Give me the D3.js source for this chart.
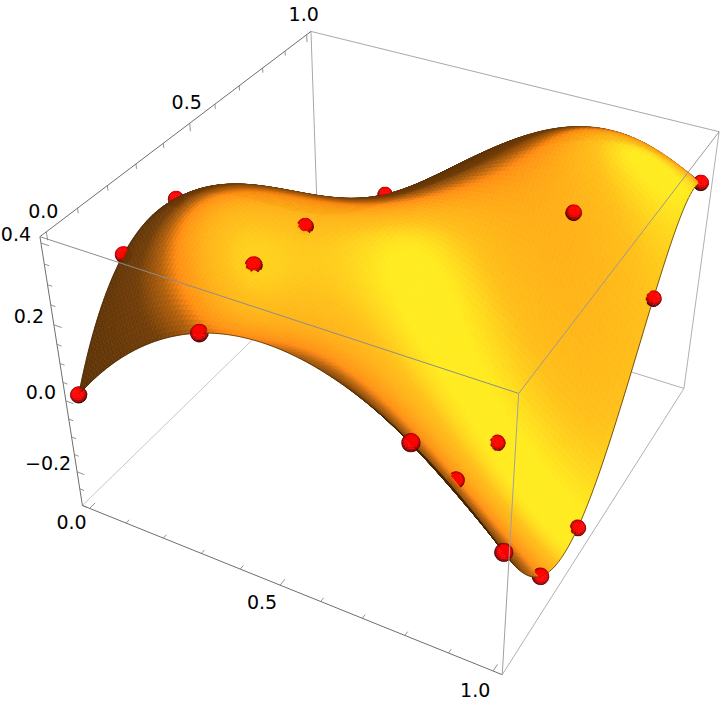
<!DOCTYPE html><html><head><meta charset="utf-8"><style>html,body{margin:0;background:#fff}</style></head><body><svg id="c" width="720" height="704"></svg><script src="https://cdn.jsdelivr.net/npm/d3@7"></script><script>
// data
const xNodes=[0,1/3,0.8,1];
const yNodes=[0,0.2,0.4,0.75,1];
const zRow0=[0.01,0.29,0.20,0.01];
const zRow1=[0.25,0.33,-0.05,-0.23];
const zRow2=[0.28,0.31,-0.10,-0.26];
const zRow3=[0.08,0.20,0.29,0.13];
const zRow4=[-0.07,0.10,0.34,0.29];
const zRows=[zRow0,zRow1,zRow2,zRow3,zRow4];
// nodes whose red point can be seen: one flag per node, rows as in zRows
const shownRows=[[1,1,1,1],[1,1,1,1],[1,1,1,1],[0,1,1,1],[0,0,0,1]];
const xyTicks=d3.range(0,11).map(i=>i/10);
const xyLabels=[0,0.5,1];
const zTicks=d3.range(-6,9).map(i=>i*0.05);
const zLabels=[-0.2,0,0.2,0.4];
const xRange=[-0.02,1.02],yRange=[-0.02,1.02],zRange=[-0.30,0.415];
// camera
const Cam=[[367.952,306.1,-69.4042,79.2416],[95.4682,-176.054,-436.464,398.52],[-0.111849,0.208865,-0.175215,1]];
const proj=(x,y,z)=>{const w=Cam[2][0]*x+Cam[2][1]*y+Cam[2][2]*z+Cam[2][3];return [(Cam[0][0]*x+Cam[0][1]*y+Cam[0][2]*z+Cam[0][3])/w,(Cam[1][0]*x+Cam[1][1]*y+Cam[1][2]*z+Cam[1][3])/w];};
function solve3(M,r){M=M.map((R,i)=>[...R,r[i]]);for(let i=0;i<3;i++){let p=i;for(let k=i;k<3;k++)if(Math.abs(M[k][i])>Math.abs(M[p][i]))p=k;[M[i],M[p]]=[M[p],M[i]];for(let k=0;k<3;k++)if(k!=i){const f=M[k][i]/M[i][i];for(let j=i;j<4;j++)M[k][j]-=f*M[i][j];}}return M.map((R,i)=>R[3]/R[i]);}
const eye=solve3(Cam.map(R=>R.slice(0,3)),Cam.map(R=>-R[3]));
const norm=v=>{const l=Math.hypot(...v);return v.map(a=>a/l);};
const dot=(a,b)=>a[0]*b[0]+a[1]*b[1]+a[2]*b[2];
const cross=(a,b)=>[a[1]*b[2]-a[2]*b[1],a[2]*b[0]-a[0]*b[2],a[0]*b[1]-a[1]*b[0]];
// camera frame
const mid=[0.5,0.5,0.06];
const fwd=norm(mid.map((m,k)=>m-eye[k]));
const grad=(idx)=>[0,1,2].map(k=>{const a=[...mid],b=[...mid];a[k]-=1e-3;b[k]+=1e-3;return (proj(...b)[idx]-proj(...a)[idx])/2e-3;});
const gx=grad(0),right=norm(gx.map((g,k)=>g-dot(gx,fwd)*fwd[k]));
const up=norm(cross(right,fwd));
const toCam=n=>[dot(n,right),dot(n,up),-dot(n,fwd)];
// lights in image frame (right, up, toward viewer)
const lightS=norm([0.8,0.7,2]),lightR=norm([0.1,0.6,2]);
const greenRamp=d3.scaleLinear().domain([0,0.25,0.45,0.58,0.68,0.8,0.89,0.98]).range([0.15,0.2,0.24,0.38,0.57,0.68,0.75,0.92]).clamp(true);
const surfShade=n=>{
  const g=greenRamp(dot(toCam(n),lightS));
  const r=Math.min(1,1.85*g),b=0.13*g;
  return d3.rgb(r*255,g*255,b*255).formatHex();
};
const sphShade=n=>{
  const r=Math.min(1,0.2+1.0*Math.max(0,dot(toCam(n),lightR)));
  return d3.rgb(r*255,0,0).formatHex();
};
// surface
const lag=(nodes,t)=>nodes.map((n,i)=>{let p=1;nodes.forEach((m,j)=>{if(j!=i)p*=(t-m)/(n-m);});return p;});
const surf=(x,y)=>{const bx=lag(xNodes,x),by=lag(yNodes,y);let s=0;by.forEach((b,j)=>bx.forEach((a,i)=>{s+=a*b*zRows[j][i];}));return s;};
const N=100;
const u=d3.scaleLinear().domain([0,N]).range([0,1]);
const line=d3.line();
const items=[];
const distTo=(p)=>Math.hypot(p[0]-eye[0],p[1]-eye[1],p[2]-eye[2]);
for(let i=0;i<N;i++)for(let j=0;j<N;j++){
  const corners=[[i,j],[i+1,j],[i+1,j+1],[i,j+1]].map(([a,b])=>{const x=u(a),y=u(b);return [x,y,surf(x,y)];});
  const cx=u(i+.5),cy=u(j+.5),cz=surf(cx,cy),h=1e-3;
  let n=norm([-(surf(cx+h,cy)-surf(cx-h,cy))/(2*h),-(surf(cx,cy+h)-surf(cx,cy-h))/(2*h),1]);
  const v=norm([eye[0]-cx,eye[1]-cy,eye[2]-cz]);
  if(dot(n,v)<0)n=n.map(a=>-a);
  const col=surfShade(n);
  items.push({d:distTo([cx,cy,cz]),path:line(corners.map(c=>proj(...c)))+'Z',fill:col,stroke:col,sw:0.6});
}
// boundary
const bCol='#3c2400';
for(let i=0;i<N;i++){const a=u(i),b=u(i+1);
  [[[a,0],[b,0]],[[a,1],[b,1]],[[0,a],[0,b]],[[1,a],[1,b]]].forEach(seg=>{
    const pts=seg.map(q=>[q[0],q[1],surf(q[0],q[1])]);const m=pts[0].map((c,k)=>(c+pts[1][k])/2);
    items.push({d:distTo(m)-0.008,path:line(pts.map(c=>proj(...c))),fill:'none',stroke:bCol,sw:0.7});
  });}
// spheres
const R=0.0172,nTh=18,nPh=12;
yNodes.forEach((yv,j)=>xNodes.forEach((xv,i)=>{
  if(!shownRows[j][i])return;
  const c=[xv,yv,zRows[j][i]];
  const sp=(a,b)=>{const th=a/nTh*2*Math.PI,ph=b/nPh*Math.PI;return [Math.sin(ph)*Math.cos(th),Math.sin(ph)*Math.sin(th),Math.cos(ph)];};
  for(let a=0;a<nTh;a++)for(let b=0;b<nPh;b++){
    const q=[[a,b],[a+1,b],[a+1,b+1],[a,b+1]].map(([s,t])=>sp(s,t));
    const m=norm(sp(a+.5,b+.5));const pc=c.map((v,k)=>v+R*m[k]);
    const v=norm(eye.map((e,k)=>e-pc[k]));
    if(dot(m,v)<-0.05)continue;
    const col=sphShade(m);
    items.push({d:distTo(pc),path:line(q.map(o=>proj(c[0]+R*o[0],c[1]+R*o[1],c[2]+R*o[2])))+'Z',fill:col,stroke:col,sw:0.4});
  }
}));
items.sort((a,b)=>b.d-a.d);
const svg=d3.select('#c');
const [x0,x1]=xRange,[y0,y1]=yRange,[z0,z1]=zRange;
const seg=(g,a,b,col,w)=>g.append('path').attr('d',line([proj(...a),proj(...b)])).attr('stroke',col).attr('stroke-width',w).attr('fill','none');
const back=svg.append('g');
seg(back,[x0,y0,z0],[x0,y1,z0],'#c8c8c8',1);
seg(back,[x0,y1,z0],[x1,y1,z0],'#b0b0b0',1);
seg(back,[x0,y1,z0],[x0,y1,z1],'#a8a8a8',1);
seg(back,[x0,y1,z1],[x1,y1,z1],'#a8a8a8',1);
seg(back,[x1,y0,z0],[x1,y1,z0],'#b0b0b0',1);
seg(back,[x1,y1,z0],[x1,y1,z1],'#b0b0b0',1);
seg(back,[x0,y0,z0],[x1,y0,z0],'#6e6e6e',1);
seg(back,[x0,y0,z0],[x0,y0,z1],'#6e6e6e',1);
seg(back,[x0,y0,z1],[x0,y1,z1],'#6e6e6e',1);
svg.append('g').selectAll('path').data(items).join('path').attr('d',d=>d.path).attr('fill',d=>d.fill).attr('stroke',d=>d.stroke).attr('stroke-width',d=>d.sw).attr('stroke-linejoin','round');
const front=svg.append('g');
seg(front,[x0,y0,z1],[x1,y0,z1],'#8c8c8c',1);
seg(front,[x1,y0,z1],[x1,y1,z1],'#999',1);
seg(front,[x1,y0,z1],[x1,y0,z0],'#a0a0a0',1);
// ticks
const ticks=svg.append('g');
const major=v=>xyLabels.some(m=>Math.abs(m-v)<1e-6);
const zMajor=v=>zLabels.some(m=>Math.abs(m-v)<1e-6);
xyTicks.forEach(t=>{const l=major(t)?0.02:0.012;
  seg(ticks,[t,y0,z0],[t,y0+l,z0],'#777',0.8);
  seg(ticks,[x0,t,z1],[x0,t,z1-l],'#777',0.8);});
zTicks.forEach(t=>{const l=zMajor(t)?0.02:0.012;seg(ticks,[x0,y0,t],[x0+l,y0,t],'#777',0.8);});
// labels
const fmt=d3.format('.1f');
const label=(p,dx,dy,s)=>svg.append('text').attr('x',p[0]+dx).attr('y',p[1]+dy).attr('text-anchor','middle').attr('dominant-baseline','central').attr('font-family','DejaVu Sans').attr('font-size',19).attr('fill','#000').text(s);
xyLabels.forEach(t=>{const a=proj(t,y0,z0),b=proj(x0,t,z1);label(a,-18,14+5*t,fmt(t));label(b,-3,-21,fmt(t));});
zLabels.forEach(t=>{label(proj(x0,y0,t),t<0?-29:-25,-9,fmt(t).replace('-','\u2212'));});
</script></body></html>
